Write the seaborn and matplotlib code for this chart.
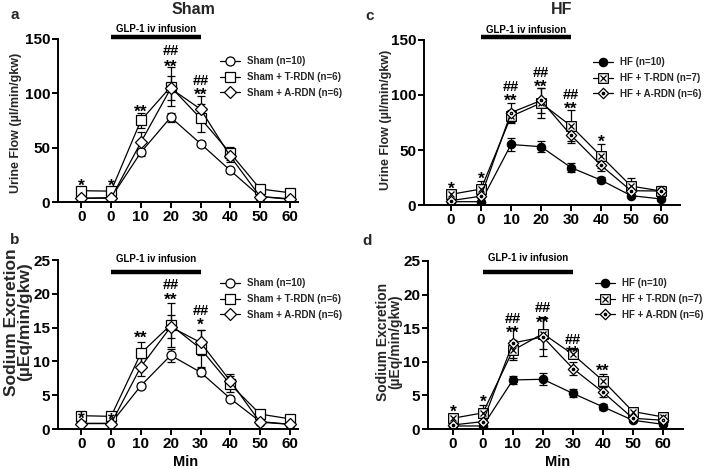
import numpy as np
import pandas as pd
import matplotlib
matplotlib.use("Agg")
import matplotlib.pyplot as plt
import matplotlib.transforms as mtransforms
from matplotlib.path import Path
import seaborn as sns

sns.set_theme(style="ticks")
plt.rcParams['font.family'] = ['Liberation Sans', 'DejaVu Sans']
plt.rcParams['font.weight'] = 'bold'
plt.rcParams['axes.labelweight'] = 'bold'

# ---------------- data ----------------
tick_labels = ["0", "0", "10", "20", "30", "40", "50", "60"]

sham_labels = ["Sham (n=10)", "Sham + T-RDN (n=6)", "Sham + A-RDN (n=6)"]
hf_labels = ["HF (n=10)", "HF + T-RDN (n=7)", "HF + A-RDN (n=6)"]

# Panel a: urine flow, sham
uf_sham = [3.4, 4, 45.7, 78, 53.7, 29, 5, 3]
uf_sham_err = [1, 1, 3, 4, 2.5, 2.5, 1, 1]
uf_sham_t = [10.4, 10, 75, 106, 77, 45, 12, 8.5]
uf_sham_t_err = [2, 2, 7, 18, 13, 6, 2, 1.5]
uf_sham_a = [3.5, 3.5, 55, 104.5, 85.5, 42, 5, 2.5]
uf_sham_a_err = [1, 1, 9, 11, 12, 5, 1, 1]

# Panel b: sodium excretion, sham
na_sham = [0.84, 0.84, 6.4, 10.9, 8.4, 4.5, 1.1, 0.7]
na_sham_err = [0.2, 0.2, 0.4, 1.0, 0.6, 0.4, 0.2, 0.1]
na_sham_t = [1.97, 1.87, 11.2, 15.4, 11.9, 6.6, 2.2, 1.5]
na_sham_t_err = [0.4, 0.4, 1.7, 3.3, 2.8, 1.2, 0.4, 0.3]
na_sham_a = [0.8, 0.8, 9.2, 15.1, 12.8, 7.1, 1.0, 0.7]
na_sham_a_err = [0.2, 0.2, 1.3, 1.7, 1.8, 1.0, 0.2, 0.1]

# Panel c: urine flow, HF
uf_hf = [3, 3, 55, 53, 34, 22.6, 8.5, 5.5]
uf_hf_err = [1, 1, 6, 5, 4, 3, 1.5, 1.5]
uf_hf_t = [9.7, 14.5, 80.6, 92.7, 71.8, 44.4, 17.2, 12.7]
uf_hf_t_err = [2, 7, 6, 14, 15, 11, 7, 5]
uf_hf_a = [4, 8, 84, 95, 63.4, 36, 13, 12.7]
uf_hf_a_err = [1, 2, 8.5, 11, 5, 5, 4, 4]

# Panel d: sodium excretion, HF
na_hf = [0.45, 0.45, 7.3, 7.4, 5.3, 3.3, 1.3, 0.7]
na_hf_err = [0.1, 0.1, 0.6, 0.9, 0.6, 0.4, 0.2, 0.2]
na_hf_t = [1.6, 2.4, 11.7, 14.2, 11.1, 7.2, 2.6, 1.8]
na_hf_t_err = [0.4, 1.2, 1.5, 2.3, 0.6, 1.0, 0.5, 0.3]
na_hf_a = [0.6, 1.1, 12.8, 13.7, 9.0, 5.5, 1.6, 1.3]
na_hf_a_err = [0.2, 0.3, 2.3, 2.9, 1.0, 0.7, 0.3, 0.3]

# significance marks: (position, text, y of glyph centre)
ann_a = [(0, "*", 19), (1, "*", 19), (2, "**", 88), (3, "**", 129), (3, "##", 140),
         (4, "**", 103), (4, "##", 112)]
ann_b = [(0, "*", 2.3), (1, "*", 2.1), (2, "**", 14.2), (3, "**", 19.9), (3, "##", 21.5),
         (4, "*", 16.1), (4, "##", 17.6)]
ann_c = [(0, "*", 19.6), (1, "*", 28), (2, "**", 99), (2, "##", 108), (3, "**", 112),
         (3, "##", 121), (4, "**", 92), (4, "##", 101), (5, "*", 62)]
ann_d = [(0, "*", 3.3), (1, "*", 4.8), (2, "**", 15.1), (2, "##", 16.6), (3, "**", 16.6),
         (3, "##", 18.1), (4, "**", 12.0), (4, "##", 13.4), (5, "**", 9.4)]

# ---------------- markers ----------------
sq = [(-1, -1), (1, -1), (1, 1), (-1, 1), (-1, -1)]
sq_path = Path(sq, [Path.MOVETO, Path.LINETO, Path.LINETO, Path.LINETO, Path.CLOSEPOLY])
k = 0.62
xlines = Path([(-k, -k), (k, k), (-k, k), (k, -k)],
              [Path.MOVETO, Path.LINETO, Path.MOVETO, Path.LINETO])
sqx_marker = Path.make_compound_path(sq_path, xlines)
dm = [(0, 1.3), (1.3, 0), (0, -1.3), (-1.3, 0), (0, 1.3)]
dm_path = Path(dm, [Path.MOVETO, Path.LINETO, Path.LINETO, Path.LINETO, Path.CLOSEPOLY])
dot = Path.circle((0, 0), 0.3)
dmdot_marker = Path.make_compound_path(dm_path, dot)

W, H = 707, 469
fig = plt.figure(figsize=(W / 100, H / 100), dpi=100)


def px_axes(left, right, top, bottom):
    return fig.add_axes([left / W, 1 - bottom / H, (right - left) / W, (bottom - top) / H])


def draw_panel(ax, series, labels, styles, ylim, yticks, xlim, anns,
               bar_y, txt_y, leg_xy, xlabel=False):
    x = np.arange(len(tick_labels))
    for (vals, errs), lab, (mk, ms, fc) in zip(series, labels, styles):
        ax.errorbar(x, vals, yerr=errs, fmt='none', ecolor='black', elinewidth=0.9,
                    capsize=2.8, capthick=0.9, zorder=1.5)
        df = pd.DataFrame({"t": x, "v": vals})
        sns.lineplot(data=df, x="t", y="v", ax=ax, color='black', linewidth=0.9,
                     marker=mk, markersize=ms, markerfacecolor=fc,
                     markeredgecolor='black', markeredgewidth=0.9, label=lab,
                     errorbar=None, zorder=2)
    ax.set_xlim(*xlim)
    ax.set_ylim(*ylim)
    ax.set_yticks(yticks)
    ax.set_xticks(x)
    ax.set_xticklabels(tick_labels, fontsize=11, fontweight='bold')
    ax.set_yticklabels([str(t) for t in yticks], fontsize=11, fontweight='bold')
    ax.set_xlabel("")
    ax.set_ylabel("")
    for s in ['top', 'right']:
        ax.spines[s].set_visible(False)
    for s in ['left', 'bottom']:
        ax.spines[s].set_linewidth(1.4)
        ax.spines[s].set_color('black')
    ax.tick_params(axis='both', direction='out', length=4, width=1.4, color='black',
                   pad=1.5, labelcolor='black')
    for pos, t, yv in anns:
        if t.startswith("*"):
            fs, off = 12.5, 0.57
        else:
            fs, off = 10.5, 0.35
        ax.annotate(t, xy=(pos, yv), xytext=(0, -off * fs), textcoords='offset points',
                    ha='center', va='baseline', fontsize=fs, fontweight='bold',
                    color='black', annotation_clip=False)
    ax.plot([1, 4], [bar_y, bar_y], color='black', linewidth=3.2, solid_capstyle='butt',
            clip_on=False)
    ax.text(2.5, txt_y, "GLP-1 iv infusion", ha='center', va='center', fontsize=7,
            fontweight='bold', color='black')
    if xlabel:
        trans = mtransforms.blended_transform_factory(ax.transData, fig.transFigure)
        ax.text(3.5, 1 - 462 / H, "Min", transform=trans, ha='center', va='center',
                fontsize=10.5, fontweight='bold', color='black')
    leg = ax.legend(loc='center left', bbox_to_anchor=leg_xy,
                    bbox_transform=fig.transFigure, frameon=False, fontsize=7,
                    handlelength=2.1, handletextpad=0.7, labelspacing=0.6,
                    borderaxespad=0, borderpad=0)
    for t in leg.get_texts():
        t.set_fontweight('bold')


sham_styles = [('o', 6.5, 'white'), ('s', 6.5, 'white'), ('D', 6.0, 'white')]
hf_styles = [('o', 6.0, 'black'), (sqx_marker, 7.0, 'white'), (dmdot_marker, 7.5, 'white')]

ax_a = px_axes(58, 298, 39, 202)
draw_panel(ax_a, [(uf_sham, uf_sham_err), (uf_sham_t, uf_sham_t_err), (uf_sham_a, uf_sham_a_err)],
           sham_labels, sham_styles, (0, 150), [0, 50, 100, 150], (-0.78, 7.27),
           ann_a, 151.5, 159, (220 / W, 1 - 77 / H))

ax_b = px_axes(58, 298, 260, 429)
draw_panel(ax_b, [(na_sham, na_sham_err), (na_sham_t, na_sham_t_err), (na_sham_a, na_sham_a_err)],
           sham_labels, sham_styles, (0, 25), [0, 5, 10, 15, 20, 25], (-0.78, 7.27),
           ann_b, 23.2, 25.2, (220 / W, 1 - 299 / H), xlabel=True)

ax_c = px_axes(424, 680, 40, 205)
draw_panel(ax_c, [(uf_hf, uf_hf_err), (uf_hf_t, uf_hf_t_err), (uf_hf_a, uf_hf_a_err)],
           hf_labels, hf_styles, (0, 150), [0, 50, 100, 150], (-0.9, 7.63),
           ann_c, 153, 159, (593 / W, 1 - 78 / H))

ax_d = px_axes(428, 683, 261, 429)
draw_panel(ax_d, [(na_hf, na_hf_err), (na_hf_t, na_hf_t_err), (na_hf_a, na_hf_a_err)],
           hf_labels, hf_styles, (0, 25), [0, 5, 10, 15, 20, 25], (-0.83, 7.67),
           ann_d, 23.3, 25.4, (595 / W, 1 - 299 / H), xlabel=True)

# y-axis labels
fig.text(16.5 / W, 1 - 123 / H, "Urine Flow (µl/min/gkw)", rotation=90, ha='center',
         va='center', fontsize=9, fontweight='bold')
fig.text(386.5 / W, 1 - 120 / H, "Urine Flow (µl/min/gkw)", rotation=90, ha='center',
         va='center', fontsize=9, fontweight='bold')
fig.text(18 / W, 1 - 322 / H, "Sodium Excretion\n(µEq/min/gkw)", rotation=90, ha='center',
         va='center', fontsize=12.5, fontweight='bold', linespacing=0.9,
         multialignment='center')
fig.text(389 / W, 1 - 342 / H, "Sodium Excretion\n(µEq/min/gkw)", rotation=90, ha='center',
         va='center', fontsize=10, fontweight='bold', linespacing=0.9,
         multialignment='center')

fig.text(193 / W, 1 - 10 / H, "Sham", ha='center', va='center', fontsize=11.5, fontweight='bold')
fig.text(562 / W, 1 - 10 / H, "HF", ha='center', va='center', fontsize=11.5, fontweight='bold')
fig.text(15 / W, 1 - 15 / H, "a", ha='center', va='center', fontsize=11, fontweight='bold')
fig.text(370 / W, 1 - 16 / H, "c", ha='center', va='center', fontsize=11, fontweight='bold')
fig.text(15 / W, 1 - 240 / H, "b", ha='center', va='center', fontsize=11, fontweight='bold')
fig.text(367 / W, 1 - 241 / H, "d", ha='center', va='center', fontsize=11, fontweight='bold')

fig.savefig("out.png", dpi=100)
